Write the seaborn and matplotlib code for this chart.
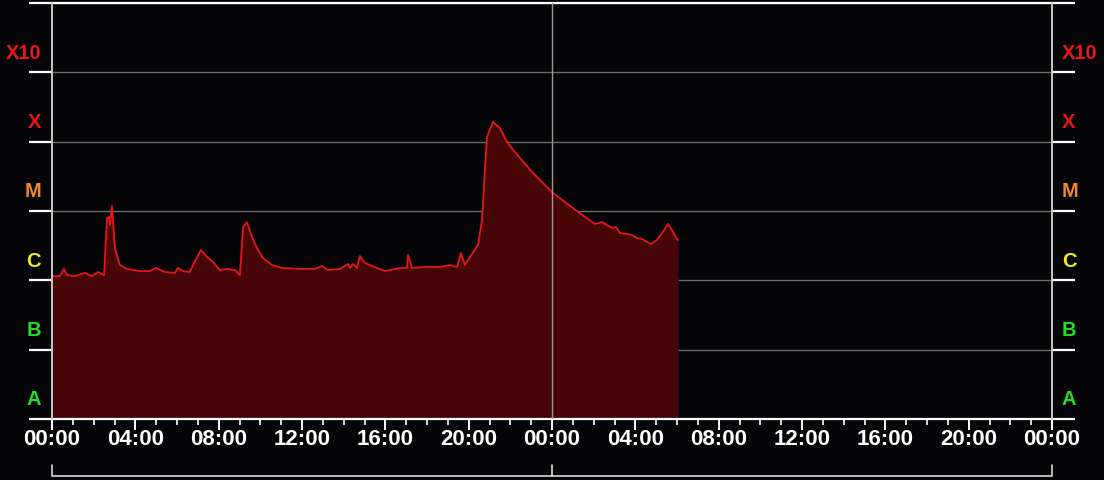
import numpy as np
import pandas as pd
import matplotlib
matplotlib.use("Agg")
import matplotlib.pyplot as plt
from matplotlib.ticker import FixedLocator, NullLocator, FuncFormatter
import seaborn as sns

# heures depuis le debut de la fenetre (48 h) et flux X (W/m2)
hours = [0.00, 0.38, 0.58, 0.72, 1.10, 1.58, 1.92, 2.21, 2.50, 2.64,
         2.74, 2.78, 2.88, 3.02, 3.26, 3.60, 4.22, 4.70, 4.99, 5.42,
         5.90, 6.05, 6.29, 6.62, 6.77, 7.15, 7.44, 7.73, 8.06, 8.40,
         8.78, 9.02, 9.17, 9.36, 9.60, 9.84, 10.13, 10.56, 11.04, 11.90,
         12.62, 12.96, 13.25, 13.82, 14.21, 14.30, 14.45, 14.64, 14.78, 15.02,
         15.36, 15.98, 16.46, 16.80, 17.04, 17.09, 17.28, 17.90, 18.62, 19.10,
         19.44, 19.63, 19.82, 20.06, 20.45, 20.64, 20.78, 20.88, 21.17, 21.50,
         21.84, 22.22, 22.56, 23.04, 23.57, 24.00, 24.62, 25.25, 26.06, 26.40,
         26.88, 27.07, 27.26, 27.60, 27.84, 28.08, 28.32, 28.56, 28.75, 29.04,
         29.28, 29.57, 29.76, 30.00, 30.05]
flux = [1.15e-6, 1.15e-6, 1.46e-6, 1.19e-6, 1.15e-6, 1.28e-6, 1.15e-6, 1.32e-6, 1.19e-6, 7.9e-6,
        8.2e-6, 6.3e-6, 1.18e-5, 2.92e-6, 1.66e-6, 1.46e-6, 1.36e-6, 1.36e-6, 1.51e-6, 1.32e-6,
        1.28e-6, 1.51e-6, 1.36e-6, 1.32e-6, 1.66e-6, 2.74e-6, 2.17e-6, 1.84e-6, 1.41e-6, 1.46e-6,
        1.41e-6, 1.19e-6, 5.9e-6, 6.9e-6, 4.2e-6, 2.92e-6, 2.1e-6, 1.66e-6, 1.51e-6, 1.46e-6,
        1.46e-6, 1.61e-6, 1.41e-6, 1.46e-6, 1.72e-6, 1.51e-6, 1.72e-6, 1.51e-6, 2.24e-6, 1.78e-6,
        1.61e-6, 1.36e-6, 1.46e-6, 1.51e-6, 1.51e-6, 2.32e-6, 1.51e-6, 1.56e-6, 1.56e-6, 1.66e-6,
        1.56e-6, 2.48e-6, 1.66e-6, 2.17e-6, 3.24e-6, 7.4e-6, 3.9e-5, 1.17e-4, 1.92e-4, 1.57e-4,
        9.9e-5, 7.1e-5, 5.4e-5, 3.66e-5, 2.54e-5, 1.88e-5, 1.35e-5, 9.7e-6, 6.5e-6, 6.9e-6,
        5.7e-6, 5.9e-6, 4.8e-6, 4.66e-6, 4.51e-6, 4.08e-6, 3.95e-6, 3.57e-6, 3.34e-6, 3.82e-6,
        4.8e-6, 6.5e-6, 5.3e-6, 3.95e-6, 3.82e-6]

classes = ["A", "B", "C", "M", "X", "X10"]
class_colors = ["#22dd22", "#22dd22", "#eeee22", "#f08a24", "#e81515", "#e81515"]
class_levels = [1e-8, 1e-7, 1e-6, 1e-5, 1e-4, 1e-3]

df = pd.DataFrame({"heure": hours, "flux": flux})

bg = "#050406"
sns.set_theme(style="dark", rc={"axes.facecolor": bg, "figure.facecolor": bg})
plt.rcParams["font.family"] = ["Liberation Sans", "DejaVu Sans"]

fig = plt.figure(figsize=(11.04, 4.8), dpi=100)
ax = fig.add_axes([52 / 1104, 61 / 480, 1000 / 1104, 416 / 480])

ax.fill_between(df["heure"], 1e-9, df["flux"], color="#470507", lw=0, zorder=2)
sns.lineplot(data=df, x="heure", y="flux", color="#e3161c", lw=1.3, ax=ax, zorder=3)

ax.set_yscale("log")
ax.set_ylim(1e-8, 1e-2)
ax.set_xlim(0, 48)

# axe y : lignes de classes
ax.yaxis.set_major_locator(FixedLocator([1e-8, 1e-7, 1e-6, 1e-5, 1e-4, 1e-3, 1e-2]))
ax.yaxis.set_minor_locator(NullLocator())
ax.tick_params(axis="y", which="major", direction="out", length=16.5, width=1.6,
               color="white", left=True, right=True, labelleft=False, labelright=False)
ax.grid(axis="y", color="#6c6c6c", lw=1)
ax.grid(axis="x", visible=False)

# axe x : heures
ax.xaxis.set_major_locator(FixedLocator(np.arange(0, 49, 4)))
ax.xaxis.set_minor_locator(FixedLocator(np.arange(0, 49, 1)))
ax.xaxis.set_major_formatter(FuncFormatter(lambda v, p: "%02d:00" % (int(v) % 24)))
ax.tick_params(axis="x", which="major", direction="out", length=8, width=1.4,
               color="white", labelcolor="white", labelsize=16, pad=-0.5, bottom=True)
ax.tick_params(axis="x", which="minor", direction="out", length=4, width=1.2,
               color="white", bottom=True)
for lab in ax.get_xticklabels():
    lab.set_fontweight("bold")
ax.set_xlabel("")
ax.set_ylabel("")

for side in ["top", "bottom"]:
    ax.spines[side].set_color("white")
    ax.spines[side].set_linewidth(1.6)
for side in ["left", "right"]:
    ax.spines[side].set_color("#c8c8c8")
    ax.spines[side].set_linewidth(1.4)
    ax.spines[side].set_zorder(5)

ax.axvline(24, color="#9a9a9a", lw=1, zorder=4)

# etiquettes de classes
for name, col, lev in zip(classes, class_colors, class_levels):
    ax.text(-11 / 1000 * 48, lev * 1.9, name, color=col, fontsize=14.5, fontweight="bold",
            ha="right", va="center", clip_on=False)
    ax.text(48 + 10 / 1000 * 48, lev * 1.9, name, color=col, fontsize=14.5, fontweight="bold",
            ha="left", va="center", clip_on=False)

# accolade sous l'axe des heures
tr = ax.get_xaxis_transform()
ax.plot([0, 0, 48, 48], [-0.111, -0.137, -0.137, -0.111], color="#d8d8d8",
        lw=1.2, transform=tr, clip_on=False)
ax.plot([24, 24], [-0.111, -0.137], color="#d8d8d8", lw=1.2, transform=tr, clip_on=False)

fig.savefig("out.png", dpi=100, facecolor=bg)
